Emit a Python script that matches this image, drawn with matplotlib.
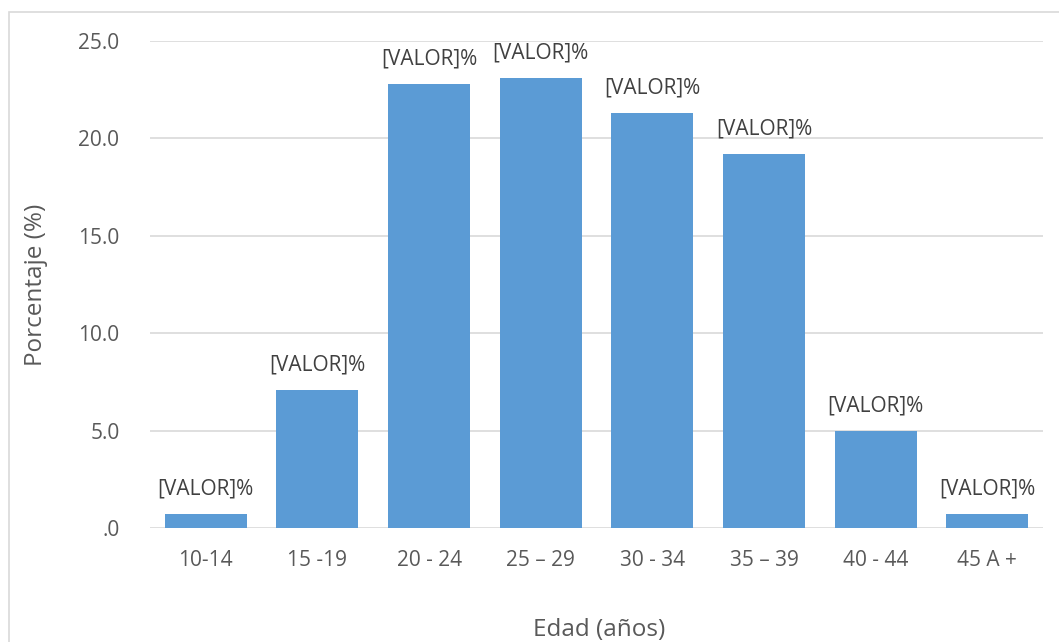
import numpy as np
from matplotlib import pyplot as plt
from matplotlib.patches import Rectangle

plt.rcParams['font.family'] = ['Open Sans', 'DejaVu Sans']

# datos
edades = ['10-14', '15 -19', '20 - 24', '25 – 29', '30 - 34', '35 – 39', '40 - 44', '45 A +']
porcentajes = [0.7, 7.1, 22.8, 23.1, 21.3, 19.2, 5.0, 0.7]
etiquetas = ['[VALOR]%'] * len(edades)
yticks = [0, 5, 10, 15, 20, 25]
ytick_labels = ['.0', '5.0', '10.0', '15.0', '20.0', '25.0']

azul = '#5b9bd5'
gris_grid = '#d9d9d9'
gris_txt = '#595959'

fig = plt.figure(figsize=(10.59, 6.42), dpi=100)
ax = fig.add_axes([0.1416, 0.1776, 0.8434, 0.7585])

x = np.arange(len(edades))
barras = ax.bar(x, porcentajes, width=0.735, color=azul, zorder=3)

for b, val, txt in zip(barras, porcentajes, etiquetas):
    ax.annotate(txt, (b.get_x() + b.get_width() / 2, val),
                xytext=(0, 18), textcoords='offset points',
                ha='center', va='center', fontsize=15, color='#404040')

ax.set_xlim(-0.5, len(edades) - 0.5)
ax.set_ylim(0, 25)
ax.set_yticks(yticks)
ax.set_yticklabels(ytick_labels)
ax.set_xticks(x)
ax.set_xticklabels(edades)
ax.tick_params(axis='both', length=0, labelsize=15, colors=gris_txt)
ax.tick_params(axis='x', pad=16)
ax.tick_params(axis='y', pad=22)
ax.yaxis.grid(True, color=gris_grid, linewidth=1.2, zorder=0)
for s in ax.spines.values():
    s.set_visible(False)

fig.text(0.034, 0.556, 'Porcentaje (%)', rotation=90, ha='center', va='center',
         fontsize=17.5, color=gris_txt)
fig.text(0.566, 0.019, 'Edad (años)', ha='center', va='center',
         fontsize=17.5, color=gris_txt)

# marco del grafico
fig.patches.append(Rectangle((0.0085, -0.05), 1.2, 1.031, transform=fig.transFigure,
                             fill=False, edgecolor=gris_grid, linewidth=1.2))

plt.savefig('out.png', dpi=100)
